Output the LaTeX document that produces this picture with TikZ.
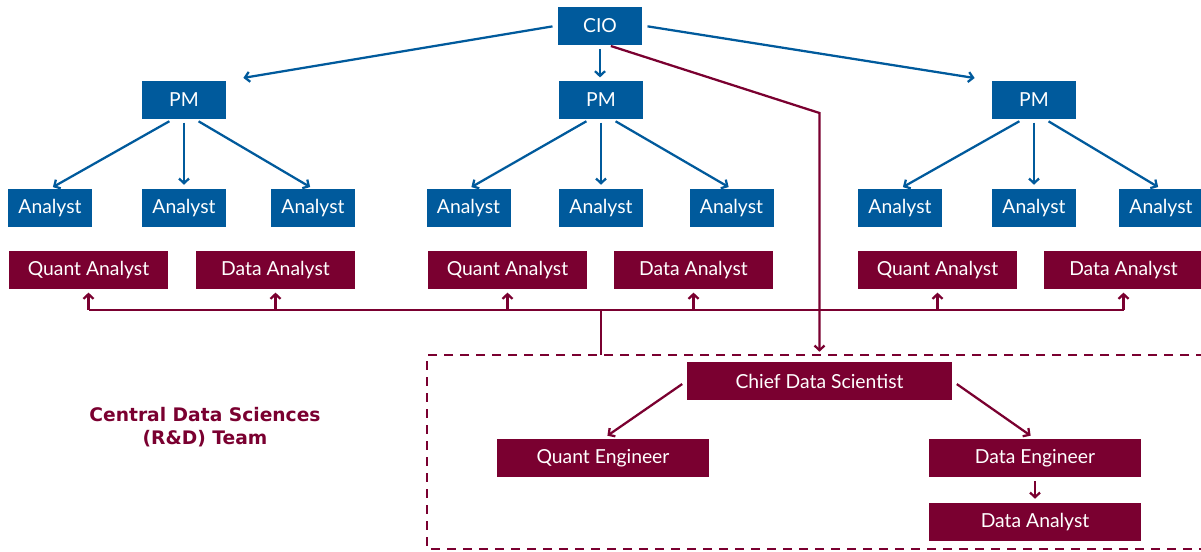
\documentclass[tikz,border=0pt]{standalone}
\usepackage{fontspec}
\setmainfont{Lato}
\newfontfamily\teamfont{DejaVu Sans}
\usetikzlibrary{arrows.meta}

\definecolor{cioblue}{RGB}{0,90,156}
\definecolor{dsred}{RGB}{122,0,48}

\begin{document}
\begin{tikzpicture}[x=0.75pt,y=-0.75pt]
  \tikzset{bluebox/.style = {shape=rectangle,fill=cioblue,text=white,minimum width=63pt,minimum height=28.5pt,inner sep=1pt,font=\fontsize{14.5}{16}\selectfont}}
  \tikzset{redbox/.style = {shape=rectangle,fill=dsred,text=white,minimum height=28.5pt,inner sep=1pt,font=\fontsize{14.5}{16}\selectfont}}
  \tikzset{%
  tipB/.tip={Straight Barb[length=3.5pt,width=7.5pt]},
}
  \tikzset{bedge/.style = {draw=cioblue,line width=1.7pt,-tipB}}
  \tikzset{redge/.style = {draw=dsred,line width=1.7pt,-tipB}}

  \useasboundingbox (0,0) rectangle (1201,551);

	\node[bluebox] (CIO) at (600,25.5) {CIO};
	
	\node[bluebox] (PMa) at (184,100) {PM};
	\node[bluebox] (PMb) at (601,100) {PM};
	\node[bluebox] (PMc) at (1034,100) {PM};
	
	\node[bluebox] (ANa1) at (50,208) {Analyst};
	\node[bluebox] (ANa2) at (184,208) {Analyst};
	\node[bluebox] (ANa3) at (313,208) {Analyst};
	\node[bluebox] (ANb1) at (468.5,208) {Analyst};
	\node[bluebox] (ANb2) at (601,208) {Analyst};
	\node[bluebox] (ANb3) at (731.5,208) {Analyst};
	\node[bluebox] (ANc1) at (900,208) {Analyst};
	\node[bluebox] (ANc2) at (1034,208) {Analyst};
	\node[bluebox] (ANc3) at (1161,208) {Analyst};
	
	\node[redbox,minimum width=119pt] (QAa) at (88.5,270) {Quant Analyst};
	\node[redbox,minimum width=119pt] (DAa) at (275.5,270) {Data Analyst};
	\node[redbox,minimum width=119pt] (QAb) at (507.5,270) {Quant Analyst};
	\node[redbox,minimum width=119pt] (DAb) at (693.5,270) {Data Analyst};
	\node[redbox,minimum width=119pt] (QAc) at (937.5,270) {Quant Analyst};
	\node[redbox,minimum width=119pt] (DAc) at (1123.5,270) {Data Analyst};
	
	\node[redbox,minimum width=199pt] (CDS) at (819.5,381) {Chief Data Scientist};
	\node[redbox,minimum width=159pt] (QE) at (603,458) {Quant Engineer};
	\node[redbox,minimum width=159pt] (DE) at (1035,458) {Data Engineer};
	\node[redbox,minimum width=159pt] (DAd) at (1035,522) {Data Analyst};
	
	\node[text=dsred,align=center,font=\fontsize{14}{17.5}\teamfont\bfseries] (team) at (205,427) {Central Data Sciences\\(R\&D) Team};
	
	% dashed frame of the R&D team
	\draw[dsred,line width=2pt,dash pattern=on 6.5pt off 5.5pt] (1205,355) -- (427,355) -- (427,549) -- (1205,549);
	\coordinate (boxtop) at (601,355);
	\coordinate (bus) at (601,310);
	\coordinate (bend) at (819.5,113);
	
	\path (CIO.west) edge[bedge,shorten <=4pt,shorten >=13pt] (PMa.north east);
	\path (CIO.east) edge[bedge,shorten <=4pt,shorten >=13pt] (PMc.north west);
	\draw[bedge,shorten <=3pt,shorten >=2.5pt] (CIO.south) -- (CIO.south |- PMb.north);
	
    \foreach \from/\to in {PMa/ANa1, PMb/ANb1, PMc/ANc1}
    \path (\from.-120) edge[bedge,shorten <=3pt,shorten >=2.5pt] (\to.north);
    \foreach \from/\to in {PMa/ANa3, PMb/ANb3, PMc/ANc3}
    \path (\from.-60) edge[bedge,shorten <=3pt,shorten >=2.5pt] (\to.north);
    \foreach \from/\to in {PMa/ANa2, PMb/ANb2, PMc/ANc2}
    \path (\from.south) edge[bedge,shorten <=2.5pt,shorten >=3pt] (\to.north);
	
	% shared line to the analysts
	\draw[dsred,line width=1.7pt] (QAa.south |- bus) -- (DAc.south |- bus);
	\draw[dsred,line width=1.7pt] (bus) -- (boxtop);
    \foreach \to in {QAa, DAa, QAb, DAb, QAc, DAc}
    \path (\to.south |- bus) edge[redge,shorten >=2.5pt] (\to.south);
	
	\draw[redge,shorten <=3pt,shorten >=7.5pt] (CIO.-70) -- (bend) -- (CDS.north);
	\path (CDS.west) edge[redge,shorten <=4pt,shorten >=4pt] (QE.north);
	\path (CDS.east) edge[redge,shorten <=4pt,shorten >=4pt] (DE.north);
	\path (DE.south) edge[redge,shorten <=3pt,shorten >=3pt] (DAd.north);

\end{tikzpicture}
\end{document}
